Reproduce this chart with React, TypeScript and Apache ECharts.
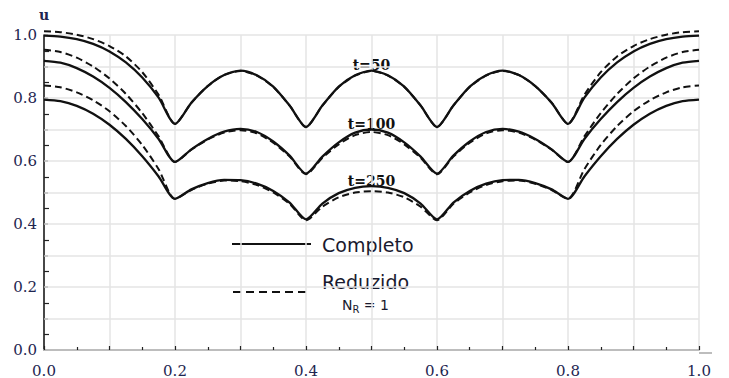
import React, { useEffect, useRef } from "react";
import * as echarts from "echarts";

const X = [
  0, 0.025, 0.05, 0.075, 0.1, 0.125, 0.15, 0.175, 0.2,
  0.225, 0.25, 0.275, 0.3, 0.325, 0.35, 0.375, 0.4,
  0.425, 0.45, 0.475, 0.5, 0.525, 0.55, 0.575, 0.6,
  0.625, 0.65, 0.675, 0.7, 0.725, 0.75, 0.775, 0.8,
  0.825, 0.85, 0.875, 0.9, 0.925, 0.95, 0.975, 1.0,
];

const completo50 = [
  0.998, 0.995, 0.987, 0.972, 0.948, 0.913, 0.865, 0.801, 0.718,
  0.785, 0.838, 0.873, 0.887, 0.872, 0.836, 0.776, 0.708,
  0.776, 0.836, 0.872, 0.887, 0.872, 0.836, 0.776, 0.708,
  0.776, 0.836, 0.872, 0.887, 0.873, 0.838, 0.785, 0.718,
  0.801, 0.865, 0.913, 0.948, 0.972, 0.987, 0.995, 0.998,
];
const reduzido50 = [
  1.012, 1.009, 1.001, 0.987, 0.965, 0.932, 0.882, 0.810, 0.718,
  0.785, 0.838, 0.873, 0.886, 0.871, 0.835, 0.776, 0.708,
  0.776, 0.835, 0.871, 0.886, 0.871, 0.835, 0.776, 0.708,
  0.776, 0.835, 0.871, 0.886, 0.873, 0.838, 0.785, 0.718,
  0.810, 0.882, 0.932, 0.965, 0.987, 1.001, 1.009, 1.012,
];
const completo100 = [
  0.918, 0.912, 0.895, 0.868, 0.832, 0.787, 0.733, 0.670, 0.597,
  0.637, 0.670, 0.693, 0.702, 0.692, 0.662, 0.617, 0.560,
  0.614, 0.659, 0.690, 0.700, 0.690, 0.659, 0.614, 0.560,
  0.617, 0.662, 0.692, 0.702, 0.693, 0.670, 0.637, 0.597,
  0.670, 0.733, 0.787, 0.832, 0.868, 0.895, 0.912, 0.918,
];
const reduzido100 = [
  0.953, 0.946, 0.928, 0.900, 0.862, 0.813, 0.752, 0.678, 0.597,
  0.636, 0.668, 0.690, 0.698, 0.688, 0.658, 0.614, 0.558,
  0.610, 0.653, 0.682, 0.692, 0.682, 0.653, 0.610, 0.558,
  0.614, 0.658, 0.688, 0.698, 0.690, 0.668, 0.636, 0.597,
  0.678, 0.752, 0.813, 0.862, 0.900, 0.928, 0.946, 0.953,
];
const completo250 = [
  0.795, 0.790, 0.775, 0.750, 0.715, 0.670, 0.615, 0.551, 0.480,
  0.510, 0.530, 0.540, 0.539, 0.528, 0.505, 0.468, 0.415,
  0.465, 0.498, 0.515, 0.520, 0.515, 0.498, 0.465, 0.415,
  0.468, 0.505, 0.528, 0.539, 0.540, 0.530, 0.510, 0.480,
  0.551, 0.615, 0.670, 0.715, 0.750, 0.775, 0.790, 0.795,
];
const reduzido250 = [
  0.840, 0.834, 0.818, 0.793, 0.758, 0.711, 0.651, 0.574, 0.480,
  0.508, 0.528, 0.538, 0.536, 0.524, 0.500, 0.464, 0.412,
  0.455, 0.485, 0.500, 0.504, 0.500, 0.485, 0.455, 0.412,
  0.464, 0.500, 0.524, 0.536, 0.538, 0.528, 0.508, 0.480,
  0.574, 0.651, 0.711, 0.758, 0.793, 0.818, 0.834, 0.840,
];

const curveLabels = ["t=50", "t=100", "t=250"];
const curveLabelY = [0.905, 0.72, 0.54];
const curveLabelX = 0.5;

const pairs = (ys: number[]) => X.map((x, i) => [x, ys[i]]);

const LABEL_COLOR = "#1e2550";

export default function App() {
  const ref = useRef<HTMLDivElement>(null);
  useEffect(() => {
    document.body.style.margin = "0";
    const chart = echarts.init(ref.current!, null, { renderer: "svg" });
    const gl = 44, gr = 30, gt = 35, gb = 25;
    const W = 729, H = 378;
    const pw = W - gl - gr, ph = H - gt - gb;
    const px = (v: number) => gl + v * pw;
    const py = (v: number) => gt + (1 - v) * ph;

    const solid = (name: string, ys: number[]) => ({
      type: "line", name, data: pairs(ys), showSymbol: false, smooth: 0.25,
      clip: false,
      lineStyle: { color: "#111", width: 2.3, type: "solid" },
    });
    const dashed = (name: string, ys: number[]) => ({
      type: "line", name, data: pairs(ys), showSymbol: false, smooth: 0.25,
      clip: false,
      lineStyle: { color: "#111", width: 2, type: [7, 4] },
    });

    const even = (v: number) => {
      const k = Math.round(v * 10);
      return k % 2 === 0 ? v.toFixed(1) : "";
    };

    chart.setOption({
      animation: false,
      backgroundColor: "#fff",
      grid: { left: gl, right: gr, top: gt, bottom: gb },
      xAxis: {
        type: "value", min: 0, max: 1, interval: 0.1,
        axisLine: { lineStyle: { color: "#bdbdbd", width: 2 } },
        axisTick: { inside: true, length: 4, lineStyle: { color: "#222", width: 1.2 } },
        minorTick: { show: true, splitNumber: 2, length: 3, lineStyle: { color: "#222", width: 1.2 } },
        axisLabel: {
          formatter: even, margin: 13, color: LABEL_COLOR,
          fontFamily: "DejaVu Serif", fontSize: 15,
        },
        splitLine: { show: true, lineStyle: { color: "#e4e4e4", width: 1.5 } },
      },
      yAxis: {
        type: "value", min: 0, max: 1, interval: 0.1,
        axisLine: { show: true, lineStyle: { color: "#111", width: 1.5 } },
        axisTick: { show: true, inside: true, length: 4, lineStyle: { color: "#bbb", width: 1.5 } },
        minorTick: { show: true, splitNumber: 2, length: 5, lineStyle: { color: "#222", width: 1.2 } },
        axisLabel: {
          formatter: even, margin: 7, color: LABEL_COLOR,
          fontFamily: "DejaVu Serif", fontSize: 15,
        },
        splitLine: { show: true, lineStyle: { color: "#e4e4e4", width: 1.5 } },
      },
      series: [
        solid("Completo t=50", completo50),
        dashed("Reduzido t=50", reduzido50),
        solid("Completo t=100", completo100),
        dashed("Reduzido t=100", reduzido100),
        solid("Completo t=250", completo250),
        dashed("Reduzido t=250", reduzido250),
      ],
      graphic: [
        { type: "line", shape: { x1: px(1), y1: py(0), x2: px(1) + 13, y2: py(0) }, style: { stroke: "#bdbdbd", lineWidth: 2 } },
        { type: "text", x: gl, y: 15, style: { text: "u", font: "bold 14px 'DejaVu Serif'", fill: LABEL_COLOR, align: "center", verticalAlign: "middle" } },
        ...curveLabels.map((t, i) => ({
          type: "text", x: px(curveLabelX), y: py(curveLabelY[i]),
          style: { text: t, font: "bold 14px 'DejaVu Serif'", fill: "#111", align: "center", verticalAlign: "middle" },
        })),
        { type: "line", shape: { x1: 232, y1: 244, x2: 311, y2: 244 }, style: { stroke: "#111", lineWidth: 2 } },
        { type: "text", x: 322, y: 245, style: { text: "Completo", font: "19px 'DejaVu Sans'", fill: "#1a1a2e", verticalAlign: "middle" } },
        { type: "line", shape: { x1: 233, y1: 292, x2: 311, y2: 292 }, style: { stroke: "#111", lineWidth: 2, lineDash: [8, 5] } },
        { type: "text", x: 322, y: 282, style: { text: "Reduzido", font: "19px 'DejaVu Sans'", fill: "#1a1a2e", verticalAlign: "middle" } },
        {
          type: "text", x: 342, y: 305,
          style: {
            text: "{a|N}{b|R}{a| = 1}", verticalAlign: "middle",
            rich: {
              a: { fontFamily: "DejaVu Sans", fontSize: 14, fill: "#1a1a2e" },
              b: { fontFamily: "DejaVu Sans", fontSize: 10, fill: "#1a1a2e", padding: [8, 0, 0, 0] },
            },
          },
        },
      ],
    });
    return () => chart.dispose();
  }, []);
  return <div ref={ref} style={{ width: 729, height: 378 }} />;
}
